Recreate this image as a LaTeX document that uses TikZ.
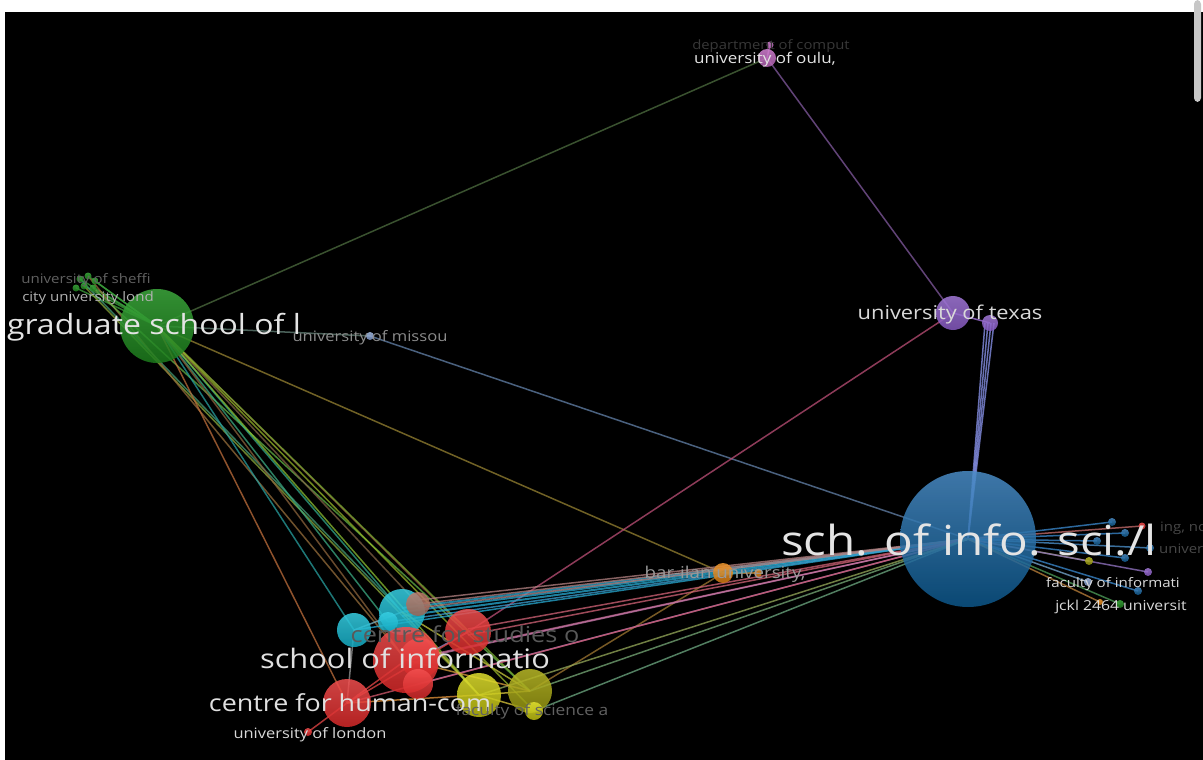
\documentclass[tikz,border=0pt]{standalone}
\usepackage{fontspec}
\setmainfont{Open Sans}[FakeStretch=1.15]
\pgfdeclarelayer{back}
\pgfdeclarelayer{edges}
\pgfsetlayers{back,edges,main}
\definecolor{grnT}{HTML}{3DAA3D}\definecolor{grnB}{HTML}{1C7A1C}
\definecolor{bluT}{HTML}{4A8CC6}\definecolor{bluB}{HTML}{0C5588}
\definecolor{purT}{HTML}{A47ADA}\definecolor{purB}{HTML}{8458BE}
\definecolor{pnkT}{HTML}{D482D4}\definecolor{pnkB}{HTML}{B060B0}
\definecolor{cyaT}{HTML}{38D0E4}\definecolor{cyaB}{HTML}{14A8C0}
\definecolor{redT}{HTML}{F25050}\definecolor{redB}{HTML}{D42828}
\definecolor{yelT}{HTML}{E0E030}\definecolor{yelB}{HTML}{B8B810}
\definecolor{olvT}{HTML}{BABA28}\definecolor{olvB}{HTML}{909010}
\definecolor{orgT}{HTML}{F09830}\definecolor{orgB}{HTML}{D07810}
\definecolor{brnT}{HTML}{C08070}\definecolor{brnB}{HTML}{9A6050}
\definecolor{lbT}{HTML}{A8C0E8}\definecolor{lbB}{HTML}{7890C0}
\definecolor{labW}{HTML}{E4E4E4}
\tikzset{
  bub/.style 2 args={circle, inner sep=0pt, outer sep=0pt, minimum size=#1,
     top color=#2T, bottom color=#2B, fill opacity=0.85, draw=none},
  ln/.style={line width=1.5pt, draw opacity=0.75},
  lab/.style 2 args={anchor=base, inner sep=0pt, text=#2,
     font=\fontsize{#1}{#1}\selectfont},
}
\newcommand{\edgeRGB}[3]{\definecolor{tmpc}{RGB}{#1}\draw[ln, tmpc] (#2.center) -- (#3.center);}
\begin{document}
\begin{tikzpicture}[x=1pt,y=-1pt]
\begin{pgfonlayer}{back}
  \fill[white] (0,0) rectangle (1203,755);
  \fill[black] (5,7) rectangle (1203,755);
  \fill[black!22, rounded corners=4pt] (1194,-5) rectangle (1201,97);
\end{pgfonlayer}
\useasboundingbox (0,0) rectangle (1203,755);
% ---------------- nodes ----------------
\node[bub={74pt}{grn}] (G) at (157,321) {};
\node[bub={7pt}{grn}] (g1) at (80,274) {};
\node[bub={7pt}{grn}] (g2) at (88,271) {};
\node[bub={7pt}{grn}] (g3) at (84,281) {};
\node[bub={7pt}{grn}] (g4) at (93,283) {};
\node[bub={7pt}{grn}] (g5) at (76,283) {};
\node[bub={7pt}{grn}] (g6) at (95,276) {};
\node[bub={8pt}{lb}] (Mi) at (370,331) {};
\node[bub={18pt}{pnk}] (O) at (767,53) {};
\node[bub={7pt}{pnk}] (O2) at (770,40) {};
\node[bub={34pt}{pur}] (T) at (953,308) {};
\node[bub={16pt}{pur}] (T2) at (990,318) {};
\node[bub={136pt}{blu}] (S) at (968,534) {};
\node[bub={20pt}{org}] (B) at (723,568) {};
\node[bub={8pt}{org}] (B2) at (758,568) {};
% right small nodes
\node[bub={8pt}{blu}] (r1) at (1112,517) {};
\node[bub={8pt}{blu}] (r2) at (1125,528) {};
\node[bub={7pt}{red}] (r3) at (1142,521) {};
\node[bub={8pt}{blu}] (r4) at (1097,536) {};
\node[bub={8pt}{blu}] (r5) at (1150,543) {};
\node[bub={8pt}{blu}] (r6) at (1125,553) {};
\node[bub={8pt}{olv}] (r7) at (1089,556) {};
\node[bub={8pt}{pur}] (r8) at (1148,567) {};
\node[bub={8pt}{lb}] (r10) at (1088,577) {};
\node[bub={8pt}{blu}] (r9) at (1138,586) {};
\node[bub={8pt}{grn}] (r11) at (1120,599) {};
\node[bub={6pt}{org}] (r12) at (1100,597) {};
% bottom cluster
\node[bub={34pt}{cya}] (C1) at (354,625) {};
\node[bub={46pt}{cya}] (C2) at (402,607) {};
\node[bub={20pt}{cya}] (C3) at (388,617) {};
\node[bub={24pt}{brn}] (Br) at (418,599) {};
\node[bub={46pt}{red}] (R1) at (468,627) {};
\node[bub={66pt}{red}] (R2) at (406,655) {};
\node[bub={40pt}{red}] (R3) at (420,653) {};
\node[bub={30pt}{red}] (R4) at (418,679) {};
\node[bub={48pt}{red}] (R5) at (347,698) {};
\node[bub={8pt}{red}] (R6) at (308,727) {};
\node[bub={44pt}{yel}] (Y1) at (479,690) {};
\node[bub={44pt}{olv}] (Y2) at (530,686) {};
\node[bub={18pt}{yel}] (Y3) at (534,706) {};
% ---------------- edges ----------------
\begin{pgfonlayer}{edges}
\edgeRGB{78,110,64}{G}{O}
\edgeRGB{100,130,120}{G}{Mi}
\edgeRGB{100,130,170}{Mi}{S}
\edgeRGB{150,130,50}{G}{B}
\edgeRGB{160,120,50}{B}{Y2}
\edgeRGB{200,140,60}{B}{B2}
\edgeRGB{130,90,160}{O}{T}
\edgeRGB{190,110,190}{O}{O2}
\edgeRGB{190,80,120}{T}{R1}
\edgeRGB{170,120,230}{T}{T2}
\foreach \d in {-5,-2,1,4}
  \draw[ln, color={rgb,255:red,140;green,150;blue,240}] ([xshift=\d pt]T2.center) -- (S.center);
% green cluster
\foreach \n in {g1,g2,g3,g4,g5,g6}
  \draw[ln, color={rgb,255:red,60;green,160;blue,60}] (\n.center) -- (G.center);
\edgeRGB{70,160,120}{g1}{C2}
\edgeRGB{140,170,60}{g3}{Y1}
\edgeRGB{150,110,60}{g2}{R2}
\edgeRGB{100,180,70}{g4}{Y2}
% G to bottom cluster
\edgeRGB{40,160,160}{G}{C1}
\edgeRGB{50,170,140}{G}{C2}
\edgeRGB{60,170,130}{G}{C3}
\edgeRGB{130,100,70}{G}{Br}
\edgeRGB{150,90,60}{G}{R1}
\edgeRGB{140,100,60}{G}{R2}
\edgeRGB{190,110,60}{G}{R5}
\edgeRGB{140,190,50}{G}{Y1}
\edgeRGB{120,170,50}{G}{Y2}
\edgeRGB{150,180,40}{G}{Y3}
% S to bottom cluster
\foreach \d in {-4,0,4}
  \draw[ln, line width=2pt, color={rgb,255:red,40;green,170;blue,210}] ([yshift=\d pt]C2.center) -- (S.center);
\edgeRGB{40,170,210}{C1}{S}
\edgeRGB{60,160,210}{C3}{S}
\foreach \d in {-4,0,4}
  \draw[ln, color={rgb,255:red,180;green,130;blue,130}] ([yshift=\d pt]Br.center) -- (S.center);
\foreach \d in {-3,3}
  \draw[ln, color={rgb,255:red,210;green,100;blue,120}] ([yshift=\d pt]R1.center) -- (S.center);
\edgeRGB{200,110,150}{R2}{S}
\edgeRGB{200,120,170}{R3}{S}
\edgeRGB{160,130,210}{R4}{S}
\edgeRGB{210,90,110}{R5}{S}
\edgeRGB{150,170,90}{Y1}{S}
\edgeRGB{120,170,120}{Y2}{S}
\edgeRGB{110,170,130}{Y3}{S}
\edgeRGB{150,140,210}{R3}{R1}
% internal bottom cluster
\edgeRGB{230,70,70}{R5}{R6}
\edgeRGB{230,70,70}{R5}{R2}
\edgeRGB{230,70,70}{R5}{R1}
\edgeRGB{120,180,200}{C1}{C2}
\edgeRGB{150,150,150}{C1}{R5}
\edgeRGB{220,200,60}{Y1}{Y2}
\edgeRGB{220,200,60}{Y1}{Y3}
\edgeRGB{230,150,60}{R5}{Y1}
\edgeRGB{220,160,60}{R2}{Y2}
\edgeRGB{200,200,60}{C2}{Y1}
\edgeRGB{200,200,60}{C2}{Y2}
% S to right small nodes
\edgeRGB{60,140,210}{S}{r1}
\edgeRGB{60,140,210}{S}{r2}
\edgeRGB{200,110,110}{S}{r3}
\edgeRGB{60,140,210}{S}{r4}
\edgeRGB{80,150,210}{S}{r5}
\edgeRGB{60,140,210}{S}{r6}
\edgeRGB{150,160,80}{S}{r7}
\edgeRGB{150,120,200}{S}{r8}
\edgeRGB{120,170,210}{S}{r10}
\edgeRGB{60,140,210}{S}{r9}
\edgeRGB{80,160,90}{S}{r11}
\edgeRGB{190,130,60}{S}{r12}
\end{pgfonlayer}
% ---------------- labels ----------------
\node[lab={27.8}{labW}] (lG) at (154,329) {graduate school of l};
\node[lab={41.4}{labW}] (lS) at (969,550) {sch. of info. sci./l};
\node[lab={19}{black!15}] (lT) at (950,314) {university of texas};
\node[lab={14.8}{labW}] (lO) at (765,59) {university of oulu,};
\node[lab={12.9}{black!78}] (lO2) at (771,45) {department of comput};
\node[lab={14.4}{black!45}] (lMi) at (370,336) {university of missou};
\node[lab={13.1}{black!62}] (lg1) at (86,278) {university of sheffi};
\node[lab={13.1}{black!30}] (lg2) at (88,296) {city university lond};
\node[lab={16.3}{black!40}] (lB) at (725,573) {bar-ilan university,};
\node[lab={13.1}{black!15}] (lr10) at (1113,582) {faculty of informati};
\node[lab={13.7}{black!15}] (lr11) at (1121,605) {jckl 2464 universit};
\node[lab={14.3}{black!15}] (lR6) at (310,733) {university of london};
\node[lab={23.4}{black!12}] (lR5) at (350,706) {centre for human-com};
\node[lab={26.8}{black!12}] (lR2) at (405,663) {school of informatio};
\node[lab={22}{black!65}] (lR1) at (465,637) {centre for studies o};
\node[lab={15.1}{black!62}] (lY3) at (532,710) {faculty of science a};
\node[lab={13}{black!72}, anchor=base west] (lr3) at (1160,526) {ing, no};
\node[lab={13}{black!72}, anchor=base west] (lr5) at (1159,548) {universi};
\end{tikzpicture}
\end{document}
